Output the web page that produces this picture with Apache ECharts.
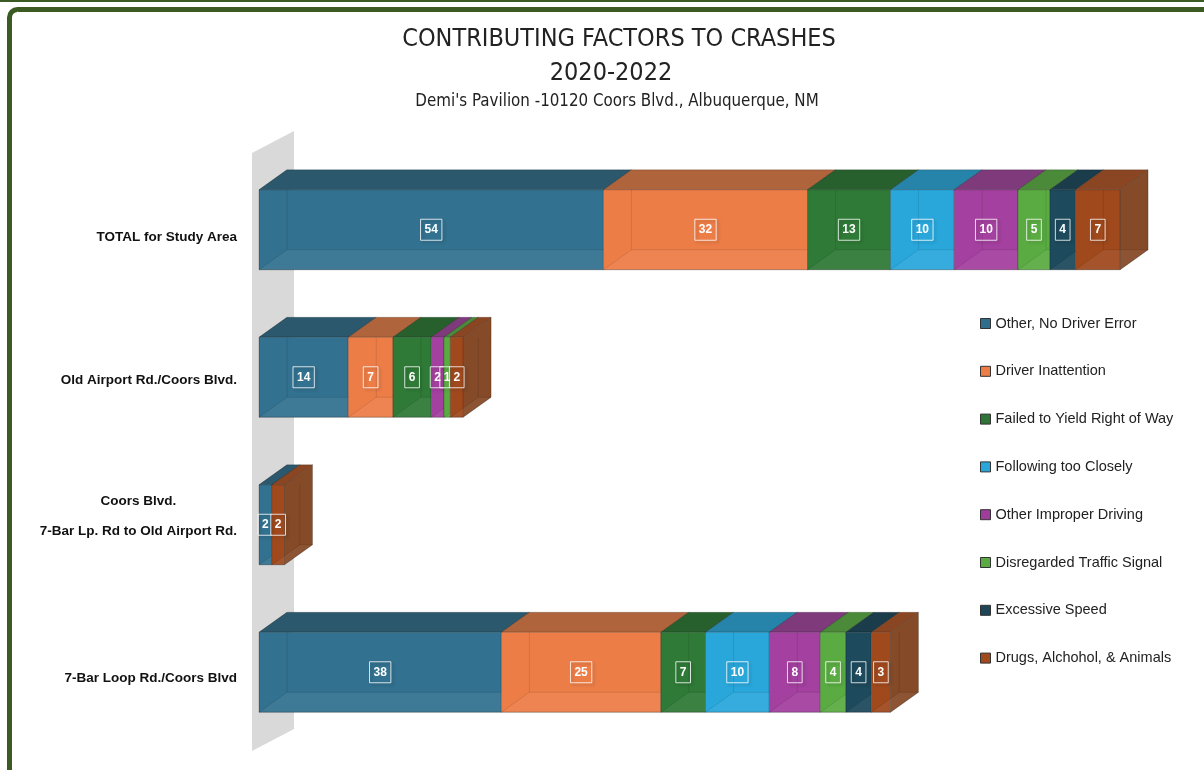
<!DOCTYPE html>
<html><head><meta charset="utf-8">
<script src="https://cdn.jsdelivr.net/npm/echarts@6/dist/echarts.min.js"></script>
<style>html,body{margin:0;padding:0;background:#fff}#c{width:1204px;height:770px}</style>
</head><body><div id="c"></div>
<script>
// ---- data ----
const categories = ['TOTAL for Study Area', 'Old Airport Rd./Coors Blvd.', 'Coors Blvd.\n7-Bar Lp. Rd to Old Airport Rd.', '7-Bar Loop Rd./Coors Blvd'];
const factors = ['Other, No Driver Error', 'Driver Inattention', 'Failed to Yield Right of Way', 'Following too Closely', 'Other Improper Driving', 'Disregarded Traffic Signal', 'Excessive Speed', 'Drugs, Alchohol, & Animals'];
const otherNoDriverError = [54, 14, 2, 38];
const driverInattention = [32, 7, 0, 25];
const failedToYield = [13, 6, 0, 7];
const followingTooClosely = [10, 0, 0, 10];
const otherImproperDriving = [10, 2, 0, 8];
const disregardedTrafficSignal = [5, 1, 0, 4];
const excessiveSpeed = [4, 0, 0, 4];
const drugsAlcoholAnimals = [7, 2, 2, 3];
const seriesValues = [otherNoDriverError, driverInattention, failedToYield, followingTooClosely, otherImproperDriving, disregardedTrafficSignal, excessiveSpeed, drugsAlcoholAnimals];

// ---- styles ----
const frontColors = ['#32718f', '#ec7d47', '#2f7a37', '#29a7db', '#a4409f', '#5aac42', '#1d4a5c', '#a0491d'];
const topColors   = ['#2b586c', '#b0643b', '#275f2d', '#2683a9', '#7e3a7b', '#4a8a38', '#1b3c4b', '#8a4622'];
const sideColors  = ['#2a5568', '#a45a34', '#245a2a', '#237ca0', '#763575', '#468535', '#1a3a48', '#854a27'];
const legendColors = ['#2f6e8c', '#ec7d47', '#2e7436', '#2aa6da', '#a03c9b', '#5aac42', '#1d4557', '#a0491d'];
const labelOffsets = [8, 3, -8, 6];
const titleFont = '"DejaVu Sans Condensed", "Liberation Sans", sans-serif';

// stacked starts
const starts = categories.map(() => 0);
const isLastIdx = categories.map((c, ci) => {
  let last = -1;
  seriesValues.forEach((arr, si) => { if (arr[ci] > 0) last = si; });
  return last;
});

function makeRender(si) {
  return function (params, api) {
    const start = api.value(0), end = api.value(1), cat = api.value(2), val = api.value(3), last = api.value(4);
    if (!val) return null;
    const a = api.coord([start, cat]), b = api.coord([end, cat]);
    const band = api.size([0, 1])[1];
    const h = band * 0.542, dx = h * 0.35, dy = h * 0.25;
    const x0 = a[0], x1 = b[0], yT = a[1] - h / 2, yB = a[1] + h / 2;
    const children = [];
    children.push({ type: 'polygon', shape: { points: [[x0, yT], [x1, yT], [x1 + dx, yT - dy], [x0 + dx, yT - dy]] },
      style: { fill: topColors[si], stroke: 'rgba(0,0,0,0.18)', lineWidth: 1 } });
    if (last) {
      children.push({ type: 'polygon', shape: { points: [[x1, yT], [x1 + dx, yT - dy], [x1 + dx, yB - dy], [x1, yB]] },
        style: { fill: sideColors[si], stroke: 'rgba(0,0,0,0.2)', lineWidth: 1 } });
    }
    children.push({ type: 'rect', shape: { x: x0, y: yT, width: x1 - x0, height: h },
      style: { fill: frontColors[si], stroke: 'rgba(0,0,0,0.22)', lineWidth: 1 } });
    children.push({ type: 'polygon', shape: { points: [[x0, yB], [x1, yB], [x1 + dx, yB - dy], [x0 + dx, yB - dy]] },
      style: { fill: 'rgba(255,255,255,0.06)', stroke: 'rgba(0,0,0,0.1)', lineWidth: 1 } });
    children.push({ type: 'line', shape: { x1: x0 + dx, y1: yT, x2: x0 + dx, y2: yB - dy },
      style: { stroke: 'rgba(0,0,0,0.1)', lineWidth: 1 } });
    children.push({ type: 'line', shape: { x1: x0, y1: yT, x2: x0 + dx, y2: yT - dy },
      style: { stroke: 'rgba(0,0,0,0.15)', lineWidth: 1 } });
    children.push({ type: 'text', x: (x0 + x1) / 2, y: a[1], z2: 20,
      style: { text: String(val), fill: '#ffffff', font: 'bold 12px "Liberation Sans", Arial, sans-serif',
        align: 'center', verticalAlign: 'middle', borderColor: 'rgba(255,255,255,0.8)', borderWidth: 1,
        padding: [5, 4, 4, 4], shadowColor: 'rgba(0,0,0,0.25)', shadowBlur: 3, shadowOffsetX: 2, shadowOffsetY: 2 } });
    return { type: 'group', children: children };
  };
}

const series = factors.map((name, si) => {
  const data = categories.map((c, ci) => {
    const v = seriesValues[si][ci];
    const s = starts[ci];
    starts[ci] += v;
    return [s, s + v, ci, v, isLastIdx[ci] === si ? 1 : 0];
  });
  return {
    name: name, type: 'custom', renderItem: makeRender(si),
    itemStyle: { color: legendColors[si] },
    encode: { x: [0, 1], y: 2 }, data: data, z: 3 + si
  };
});

const richStyles = {};
labelOffsets.forEach((o, i) => {
  richStyles['r' + i] = { fontSize: 13.5, fontWeight: 'bold', color: '#111', fontFamily: 'Liberation Sans',
    align: 'center', lineHeight: 30, padding: o >= 0 ? [2 * o, 0, 0, 0] : [0, 0, -2 * o, 0] };
});

const chart = echarts.init(document.getElementById('c'));
chart.setOption({
  backgroundColor: '#ffffff',
  animation: false,
  title: [
    { text: 'CONTRIBUTING FACTORS TO CRASHES', left: 619, top: 27, textAlign: 'center', padding: 0,
      textStyle: { fontFamily: titleFont, fontSize: 25, fontWeight: 'normal', color: '#222' } },
    { text: '2020-2022', left: 611, top: 61, textAlign: 'center', padding: 0,
      textStyle: { fontFamily: titleFont, fontSize: 25, fontWeight: 'normal', color: '#222' } },
    { text: "Demi's Pavilion -10120 Coors Blvd., Albuquerque, NM", left: 617, top: 93, textAlign: 'center', padding: 0,
      textStyle: { fontFamily: titleFont, fontSize: 16.8, fontWeight: 'normal', color: '#222' } }
  ],
  legend: {
    orient: 'vertical', left: 980, top: 316, padding: 0, itemWidth: 10, itemHeight: 10, itemGap: 32.8,
    icon: 'rect', selectedMode: false,
    itemStyle: { borderColor: '#333', borderWidth: 1 },
    textStyle: { fontFamily: 'Liberation Sans', fontSize: 14.5, color: '#222', lineHeight: 14 },
    data: factors
  },
  graphic: [
    { type: 'polygon', z: 0, shape: { points: [[252, 153], [294, 131], [294, 729], [252, 751]] }, style: { fill: '#d9d9d9' } },
    { type: 'rect', z: 100, shape: { x: 0, y: 0, width: 1204, height: 2 }, style: { fill: '#3b5a24' } },
    { type: 'rect', z: 100, shape: { x: 9.5, y: 9.5, width: 1300, height: 900, r: 8 }, style: { fill: null, stroke: '#3b5a24', lineWidth: 5 } }
  ],
  grid: { left: 259, top: 156, width: 893, height: 590 },
  xAxis: { type: 'value', min: 0, max: 140, show: false },
  yAxis: {
    type: 'category', data: categories, inverse: true,
    axisLine: { show: false }, axisTick: { show: false }, splitLine: { show: false },
    axisLabel: {
      margin: 22, align: 'right',
      formatter: function (v, i) { return v.split('\n').map(l => '{r' + i + '|' + l + '}').join('\n'); },
      rich: richStyles
    }
  },
  series: series
});
</script></body></html>
